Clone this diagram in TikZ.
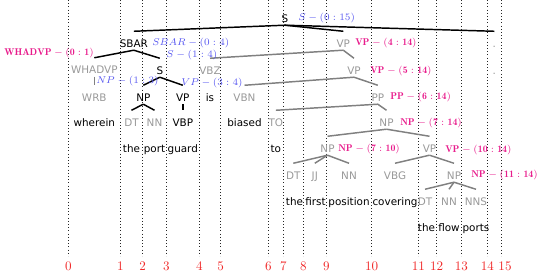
\RequirePackage{fix-cm}
\documentclass[tikz,border=0pt]{standalone}
\usepackage{fontspec}
\setsansfont{DejaVu Sans}
\usetikzlibrary{positioning}
\definecolor{tgrey}{gray}{0.6}
\definecolor{egrey}{gray}{0.5}
\definecolor{lblue}{RGB}{85,85,240}
\definecolor{lmag}{RGB}{232,28,140}
\definecolor{ired}{RGB}{240,40,40}

\begin{document}
\begin{tikzpicture}[x=0.75pt,y=-0.75pt,
  tok/.style={font=\fontsize{7.8}{10}\sffamily, inner xsep=1pt, inner ysep=2.2pt, text height=6pt, text depth=0pt},
  cons/.style={tok, text=black},
  gcons/.style={tok, text=tgrey},
  bedge/.style={line width=1.1pt, black},
  gedge/.style={line width=1.1pt, egrey},
  spanb/.style={font=\fontsize{7.4}{9}\selectfont, text=lblue, inner sep=0pt},
  spanm/.style={font=\fontsize{7.4}{9}\selectfont, text=lmag, inner sep=0pt},
  idx/.style={font=\fontsize{9.8}{12}\selectfont, text=ired, inner sep=0pt}]
\useasboundingbox (0,0) rectangle (539,272);

\foreach \x [count=\i from 0] in {68.3,120.3,142.7,166.3,199.3,220.7,268.3,283.3,303.3,326.3,371.7,418.3,436.7,461.3,487.3,501.3}
  \draw [dotted, black!85] (\x,0) -- (\x,256);
\foreach \x [count=\i from 0] in {68.3,120.3,142.7,166.3,199.3,220.7,268.3,283.3,303.3,326.3,371.7,418.3,436.7,461.3,487.3,505}
  \node [idx] (n\i) at (\x,266) {\i};

\node [cons]  (s)      at (284.8,18)  {S};

\node [cons]  (sbar)   at (133.8,43)  {SBAR};
\node [gcons] (vp414)  at (343.3,43)  {VP};
\node [gcons] (dotp)   at (494.3,43)  {.};

\node [gcons] (whadvp) at (94.3,69.5) {WHADVP};
\node [cons]  (s14)    at (159.8,70)  {S};
\node [gcons] (vbz)    at (210,70)    {VBZ};
\node [gcons] (vp514)  at (354,70)    {VP};
\node [gcons] (dotw)   at (494.3,70)  {.};

\node [gcons] (wrb)    at (94.3,97)   {WRB};
\node [cons]  (np13)   at (143.3,97)  {NP};
\node [cons]  (vp34)   at (182.8,97)  {VP};
\node [cons]  (w4)     at (210,97)    {is};
\node [gcons] (vbn)    at (244.5,97)  {VBN};
\node [gcons] (pp)     at (377.8,97)  {PP};

\node [cons]  (w0)     at (94.3,122)  {wherein};
\node [gcons] (dt1)    at (131.5,122) {DT};
\node [gcons] (nn2)    at (154.5,122) {NN};
\node [cons]  (vbp)    at (182.8,122) {VBP};
\node [cons]  (w5)     at (244.5,122) {biased};
\node [gcons] (tot)    at (275.8,122) {TO};
\node [gcons] (np714)  at (386.5,122) {NP};

\node [cons]  (w1)     at (131.5,148) {the};
\node [cons]  (w2)     at (154.5,148) {port};
\node [cons]  (w3)     at (182.8,148) {guard};
\node [cons]  (w6)     at (275.8,148) {to};
\node [gcons] (np710)  at (327.5,148) {NP};
\node [gcons] (vp1014) at (429.5,148) {VP};

\node [gcons] (dt7)    at (293.3,175) {DT};
\node [gcons] (jj8)    at (314.8,175) {JJ};
\node [gcons] (nn9)    at (349,175)   {NN};
\node [gcons] (vbg)    at (395,175)   {VBG};
\node [gcons] (np1114) at (454,175)   {NP};

\node [cons]  (w7)     at (294.5,201) {the};
\node [cons]  (w8)     at (315.5,201) {first};
\node [cons]  (w9)     at (349,201)   {position};
\node [cons]  (w10)    at (395,201)   {covering};
\node [gcons] (dt11)   at (425,201)   {DT};
\node [gcons] (nn12)   at (449,201)   {NN};
\node [gcons] (nns13)  at (476,201)   {NNS};

\node [cons]  (w11)    at (426.5,227) {the};
\node [cons]  (w12)    at (449,227)   {flow};
\node [cons]  (w13)    at (476,227)   {ports};

\foreach \p/\c in {whadvp/wrb,vp414/vbz,vp414/vp514,vp514/vbn,vp514/pp,pp/tot,pp/np714,
    np714/np710,np714/vp1014,np710/dt7,np710/jj8,np710/nn9,vp1014/vbg,vp1014/np1114,
    np1114/dt11,np1114/nn12,np1114/nns13}
  \draw [gedge] (\p.south) -- ([yshift=3.4pt]\c.north);

\foreach \p/\c in {s/sbar,s/vp414,s/dotp,sbar/whadvp,sbar/s14,s14/np13,s14/vp34,
    np13/dt1,np13/nn2,vp34/vbp}
  \draw [bedge] (\p.south) -- ([yshift=3.4pt]\c.north);

\node [spanb,anchor=west] (ls)      at (298,18)  {$S-(0:15)$};
\node [spanb,anchor=west] (lsbar)   at (152,43)  {$SBAR-(0:4)$};
\node [spanb,anchor=west] (ls14)    at (166,55)  {$S-(1:4)$};
\node [spanb,anchor=west] (lnp13)   at (96,81.5) {$NP-(1:3)$};
\node [spanb,anchor=west] (lvp34)   at (181,83)  {$VP-(3:4)$};

\node [spanm,anchor=east] (lwhadvp) at (94,53)   {$\mathbf{WHADVP-(0:1)}$};
\node [spanm,anchor=west] (lvp414)  at (355,43)  {$\mathbf{VP-(4:14)}$};
\node [spanm,anchor=west] (lvp514)  at (370,71)  {$\mathbf{VP-(5:14)}$};
\node [spanm,anchor=west] (lpp)     at (390,97)  {$\mathbf{PP-(6:14)}$};
\node [spanm,anchor=west] (lnp714)  at (400,123) {$\mathbf{NP-(7:14)}$};
\node [spanm,anchor=west] (lnp710)  at (338,149) {$\mathbf{NP-(7:10)}$};
\node [spanm,anchor=west] (lvp1014) at (445,150) {$\mathbf{VP-(10:14)}$};
\node [spanm,anchor=west] (lnp1114) at (471,175) {$\mathbf{NP-(11:14)}$};
\end{tikzpicture}
\end{document}
